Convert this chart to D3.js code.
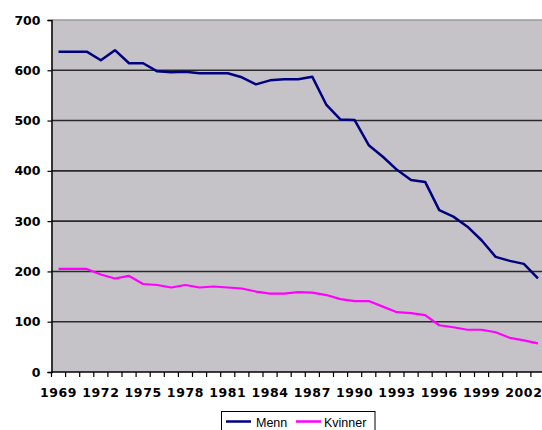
<!DOCTYPE html>
<html>
<head>
<meta charset="utf-8">
<script src="https://cdn.jsdelivr.net/npm/d3@7"></script>
<style>
  body { margin: 0; background: #fff; }
  svg { display: block; }
</style>
</head>
<body>
<div id="chart"></div>
<script>
// Data
const years = [1969, 1970, 1971, 1972, 1973, 1974, 1975, 1976, 1977, 1978,
    1979, 1980, 1981, 1982, 1983, 1984, 1985, 1986, 1987, 1988,
    1989, 1990, 1991, 1992, 1993, 1994, 1995, 1996, 1997, 1998,
    1999, 2000, 2001, 2002, 2003];
const menn = [637, 637, 637, 620, 640, 614, 614, 598, 596, 597,
    594, 594, 594, 586, 572, 580, 582, 582, 587, 531,
    502, 501, 451, 428, 402, 382, 378, 322, 309, 289,
    262, 229, 221, 215, 186];
const kvinner = [205, 205, 205, 194, 186, 191, 175, 173, 168, 173,
    168, 170, 168, 166, 160, 156, 156, 159, 158, 153,
    145, 141, 141, 130, 119, 117, 113, 93, 89, 84,
    84, 79, 68, 63, 57];
const yTicks = [0, 100, 200, 300, 400, 500, 600, 700];
const xLabels = [1969, 1972, 1975, 1978, 1981, 1984, 1987, 1990, 1993, 1996, 1999, 2002];
const seriesNames = ["Menn", "Kvinner"];
const colors = ["#000080", "#ff00ff"];

const W = 542, H = 430;
const plotLeft = 51.5, plotTop = 20, plotBottom = 372;
const plotW = 493.5;

const svg = d3.select("#chart").append("svg")
    .attr("width", W)
    .attr("height", H);

const x = d3.scaleBand()
    .domain(years)
    .range([plotLeft, plotLeft + plotW])
    .padding(0);
const y = d3.scaleLinear()
    .domain([0, 700])
    .range([plotBottom, plotTop]);

// plot background
svg.append("rect")
    .attr("x", plotLeft)
    .attr("y", plotTop)
    .attr("width", plotW)
    .attr("height", plotBottom - plotTop)
    .attr("fill", "#c5c3c7");

// grid lines
svg.append("g")
    .selectAll("line")
    .data(yTicks.filter(d => d > 0 && d < 700))
    .enter().append("line")
    .attr("x1", plotLeft)
    .attr("x2", plotLeft + plotW)
    .attr("y1", d => y(d))
    .attr("y2", d => y(d))
    .attr("stroke", "#2a2a2a")
    .attr("stroke-width", 1.6);

// top border
svg.append("line")
    .attr("x1", plotLeft)
    .attr("x2", plotLeft + plotW)
    .attr("y1", y(700))
    .attr("y2", y(700))
    .attr("stroke", "#9a9a9a")
    .attr("stroke-width", 1.5);

// y axis
const yAxis = svg.append("g")
    .attr("transform", `translate(${plotLeft},0)`)
    .call(d3.axisLeft(y).tickValues(yTicks).tickSize(4).tickPadding(7));
yAxis.select(".domain").attr("stroke", "#000").attr("stroke-width", 1.5);
yAxis.selectAll(".tick line").attr("stroke", "#000").attr("stroke-width", 1.2);
yAxis.selectAll("text")
    .attr("font-family", "DejaVu Sans")
    .attr("font-weight", "bold")
    .attr("font-size", 12.5)
    .attr("fill", "#000");

// x axis: ticks between categories, labels every third year
svg.append("line")
    .attr("x1", plotLeft)
    .attr("x2", plotLeft + plotW)
    .attr("y1", plotBottom)
    .attr("y2", plotBottom)
    .attr("stroke", "#000")
    .attr("stroke-width", 1.5);
svg.append("g")
    .selectAll("line")
    .data(years.concat(["end"]))
    .enter().append("line")
    .attr("x1", d => d === "end" ? plotLeft + plotW : x(d))
    .attr("x2", d => d === "end" ? plotLeft + plotW : x(d))
    .attr("y1", plotBottom)
    .attr("y2", plotBottom + 5)
    .attr("stroke", "#000")
    .attr("stroke-width", 1.2);
svg.append("g")
    .selectAll("text")
    .data(xLabels)
    .enter().append("text")
    .attr("x", d => x(d) + x.bandwidth() / 2)
    .attr("y", 396.5)
    .attr("text-anchor", "middle")
    .attr("font-family", "DejaVu Sans")
    .attr("font-weight", "bold")
    .attr("font-size", 12.5)
    .attr("letter-spacing", 0.6)
    .text(d => d);

// lines
const line = d3.line()
    .x((d, i) => x(years[i]) + x.bandwidth() / 2)
    .y(d => y(d));
[menn, kvinner].forEach((values, index) => {
    svg.append("path")
        .datum(values)
        .attr("fill", "none")
        .attr("stroke", colors[index])
        .attr("stroke-width", index === 0 ? 2.5 : 2.2)
        .attr("stroke-linejoin", "round")
        .attr("d", line);
});

// legend
const legend = svg.append("g");
legend.append("rect")
    .attr("x", 221.5)
    .attr("y", 411.5)
    .attr("width", 153.5)
    .attr("height", 30)
    .attr("fill", "#fff")
    .attr("stroke", "#000")
    .attr("stroke-width", 1);
const legendPos = [{ lx: 226, tx: 256 }, { lx: 296, tx: 324 }];
seriesNames.forEach((name, i) => {
    legend.append("line")
        .attr("x1", legendPos[i].lx)
        .attr("x2", legendPos[i].lx + 25)
        .attr("y1", 421.5)
        .attr("y2", 421.5)
        .attr("stroke", colors[i])
        .attr("stroke-width", 2.5);
    legend.append("text")
        .attr("x", legendPos[i].tx)
        .attr("y", 426.5)
        .attr("font-family", "Liberation Sans")
        .attr("font-size", 12.5)
        .text(name);
});
</script>
</body>
</html>
